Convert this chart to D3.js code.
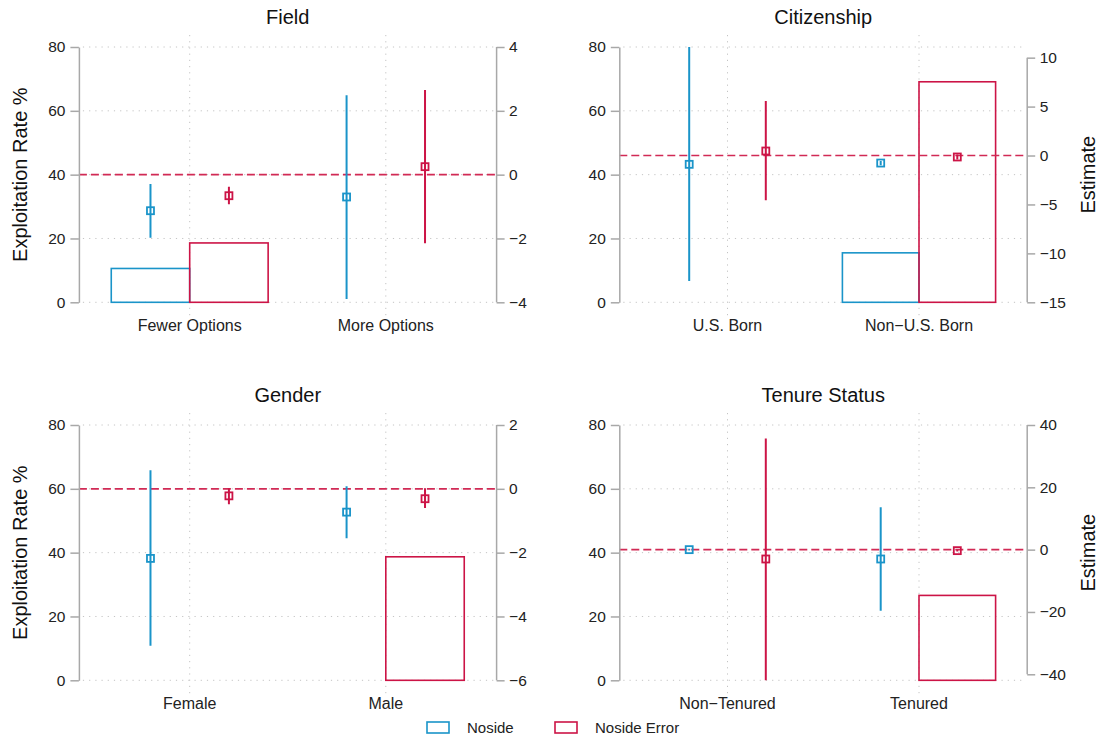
<!DOCTYPE html>
<html>
<head>
<meta charset="utf-8">
<script src="https://cdn.jsdelivr.net/npm/d3@7"></script>
<style>
  body { margin: 0; background: #fff; }
  svg { font-family: "Liberation Sans", Arial, Helvetica, sans-serif; }
</style>
</head>
<body>
<svg id="chart" width="1099" height="741"></svg>
<script>
// datos
var panels = ["Field", "Citizenship", "Gender", "Tenure Status"];
var categories = [
  ["Fewer Options", "More Options"],
  ["U.S. Born", "Non\u2212U.S. Born"],
  ["Female", "Male"],
  ["Non\u2212Tenured", "Tenured"]
];
var series = ["Noside", "Noside Error"];

// exploitation rate % (barras, eje izquierdo) [categoria][serie], null = sin barra
var rates = [
  [[10.6, 18.6], [null, null]],
  [[null, null], [15.5, 69.1]],
  [[null, null], [null, 38.7]],
  [[null, null], [null, 26.6]]
];
// estimaciones (eje derecho) [categoria][serie]
var estimates = [
  [[-1.13, -0.66], [-0.70, 0.25]],
  [[-0.90, 0.46], [-0.77, -0.15]],
  [[-2.18, -0.22], [-0.73, -0.31]],
  [[0.0, -3.0], [-3.0, -0.32]]
];
var ciLow = [
  [[-1.98, -0.93], [-3.90, -2.15]],
  [[-12.83, -4.58], [-1.0, -0.4]],
  [[-4.92, -0.48], [-1.55, -0.60]],
  [[-0.3, -45], [-19.6, -0.6]]
];
var ciHigh = [
  [[-0.29, -0.38], [2.49, 2.65]],
  [[12, 5.57], [-0.55, 0.1]],
  [[0.58, 0.02], [0.08, 0.02]],
  [[0.3, 35.7], [13.6, 0.0]]
];

var leftTicks = [0, 20, 40, 60, 80];
var leftDomain = [0, 80];
var rightDomains = [[-4, 4], [-15, 11.09], [-6, 2], [-41.93, 40]];
var rightTicks = [
  [-4, -2, 0, 2, 4],
  [-15, -10, -5, 0, 5, 10],
  [-6, -4, -2, 0, 2],
  [-40, -20, 0, 20, 40]
];

var colores = ["#1a94c9", "#cc1446"];
var axisColor = "#a8a8a8";

// layout
var cols = [{l: 78.9, r: 496.6}, {l: 619.3, r: 1027.2}];
var rows = [{t: 47, b: 302.3}, {t: 425, b: 680.3}];

var svg = d3.select("#chart");

panels.forEach(function(name, p){
  var col = cols[p % 2], row = rows[Math.floor(p / 2)];
  var x = d3.scaleLinear().domain([0.435, 2.565]).range([col.l, col.r]);
  var yL = d3.scaleLinear().domain(leftDomain).range([row.b, row.t]);
  var yR = d3.scaleLinear().domain(rightDomains[p]).range([row.b, row.t]);
  var g = svg.append("g");

  g.append("clipPath").attr("id", "clip" + p)
    .append("rect")
    .attr("x", col.l).attr("y", row.t)
    .attr("width", col.r - col.l).attr("height", row.b - row.t);

  /* grid */
  g.selectAll(".hgrid").data(leftTicks).enter().append("line")
    .attr("x1", col.l + 4).attr("x2", col.r - 2)
    .attr("y1", d => yL(d)).attr("y2", d => yL(d))
    .attr("stroke", "#c4c4c4").attr("stroke-width", 1)
    .attr("stroke-dasharray", "1.2,5");
  g.selectAll(".vgrid").data([1, 2]).enter().append("line")
    .attr("x1", d => x(d)).attr("x2", d => x(d))
    .attr("y1", row.t - 12).attr("y2", row.b + 13)
    .attr("stroke", "#c4c4c4").attr("stroke-width", 1)
    .attr("stroke-dasharray", "1.2,5");

  /* barras */
  var bars = [];
  rates[p].forEach(function(cat, i){
    cat.forEach(function(v, s){
      if (v !== null) bars.push({c: i + 1, s: s, v: v});
    });
  });
  g.selectAll(".bar").data(bars).enter().append("rect")
    .attr("x", d => x(d.c + (d.s === 0 ? -0.4 : 0)))
    .attr("width", d => x(d.c + 0.4) - x(d.c))
    .attr("y", d => yL(d.v))
    .attr("height", d => yL(0) - yL(d.v))
    .attr("fill", "none")
    .attr("stroke", d => colores[d.s])
    .attr("stroke-width", 1.6);

  /* linea cero */
  g.append("line")
    .attr("x1", col.l).attr("x2", col.r)
    .attr("y1", yR(0)).attr("y2", yR(0))
    .attr("stroke", "#d12a55").attr("stroke-width", 1.6)
    .attr("stroke-dasharray", "8,4");

  /* estimaciones con intervalos */
  var pts = [];
  estimates[p].forEach(function(cat, i){
    cat.forEach(function(v, s){
      pts.push({c: i + 1, s: s, v: v, lo: ciLow[p][i][s], hi: ciHigh[p][i][s]});
    });
  });
  var pg = g.append("g").attr("clip-path", "url(#clip" + p + ")");
  pg.selectAll(".ci").data(pts).enter().append("line")
    .attr("x1", d => x(d.c + (d.s === 0 ? -0.2 : 0.2)))
    .attr("x2", d => x(d.c + (d.s === 0 ? -0.2 : 0.2)))
    .attr("y1", d => yR(d.lo)).attr("y2", d => yR(d.hi))
    .attr("stroke", d => colores[d.s]).attr("stroke-width", 2);
  pg.selectAll(".pt").data(pts).enter().append("rect")
    .attr("x", d => x(d.c + (d.s === 0 ? -0.2 : 0.2)) - 3.5)
    .attr("y", d => yR(d.v) - 3.5)
    .attr("width", 7).attr("height", 7)
    .attr("fill", "none")
    .attr("stroke", d => colores[d.s]).attr("stroke-width", 1.8);

  /* ejes */
  var axL = g.append("g").attr("transform", "translate(" + col.l + ",0)")
    .call(d3.axisLeft(yL).tickValues(leftTicks).tickSize(8.5).tickSizeOuter(0).tickPadding(5));
  var rt = rightTicks[p];
  var axR = g.append("g").attr("transform", "translate(" + col.r + ",0)")
    .call(d3.axisRight(yR).tickValues(rt).tickSize(8).tickSizeOuter(0).tickPadding(4.5));
  axR.select(".domain").remove();
  axR.append("line")
    .attr("y1", yR(d3.min(rt))).attr("y2", yR(d3.max(rt)))
    .attr("stroke", axisColor).attr("stroke-width", 1.5);
  [axL, axR].forEach(function(ax){
    ax.select(".domain").attr("stroke", axisColor).attr("stroke-width", 1.5);
    ax.selectAll(".tick line").attr("stroke", axisColor).attr("stroke-width", 1.5);
    ax.selectAll(".tick text").attr("fill", "#222").style("font-size", "15.5px");
  });

  /* etiquetas de categorias */
  g.selectAll(".catlab").data(categories[p]).enter().append("text")
    .attr("x", (d, i) => x(i + 1)).attr("y", row.b + 29)
    .attr("text-anchor", "middle").attr("fill", "#222")
    .style("font-size", "16px")
    .text(d => d);

  /* titulo */
  g.append("text")
    .attr("x", (col.l + col.r) / 2).attr("y", row.t - 23)
    .attr("text-anchor", "middle").attr("fill", "#111")
    .style("font-size", "20px")
    .text(name);

  var cy = (row.t + row.b) / 2;
  if (p % 2 === 0) {
    g.append("text")
      .attr("transform", "translate(27.4," + cy + ") rotate(-90)")
      .attr("text-anchor", "middle").attr("fill", "#111")
      .style("font-size", "20px")
      .text("Exploitation Rate %");
  } else {
    g.append("text")
      .attr("transform", "translate(1094.5," + cy + ") rotate(-90)")
      .attr("text-anchor", "middle").attr("fill", "#111")
      .style("font-size", "20px")
      .text("Estimate");
  }
});

/* leyenda */
var legX = [427, 555];
var leg = svg.selectAll(".leg").data(series).enter().append("g")
  .attr("transform", (d, i) => "translate(" + legX[i] + ",722)");
leg.append("rect")
  .attr("width", 22).attr("height", 11)
  .attr("fill", "none")
  .attr("stroke", (d, i) => colores[i]).attr("stroke-width", 1.6);
leg.append("text")
  .attr("x", 40).attr("y", 11)
  .attr("fill", "#222").style("font-size", "15px")
  .text(d => d);
</script>
</body>
</html>
